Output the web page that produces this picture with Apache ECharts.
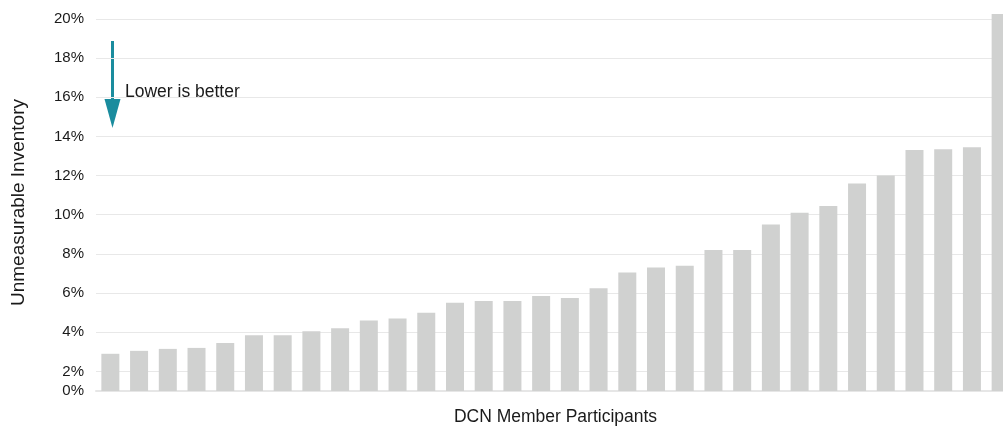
<!DOCTYPE html>
<html>
<head>
<meta charset="utf-8">
<script src="https://cdn.jsdelivr.net/npm/echarts@6/dist/echarts.min.js"></script>
<style>
  html, body { margin: 0; padding: 0; background: #fff; }
  #main { width: 1003px; height: 430px; }
</style>
</head>
<body>
<div id="main"></div>
<script>
// participants, sorted low to high (values in %)
var participants = [];
for (var p = 1; p <= 32; p++) participants.push('P' + p);
var unmeasurable = [2.9, 3.05, 3.15, 3.2, 3.45, 3.85, 3.85, 4.05, 4.2, 4.6, 4.7, 5.0,
  5.5, 5.6, 5.6, 5.85, 5.75, 6.25, 7.05, 7.3, 7.4, 8.2, 8.2, 9.5,
  10.1, 10.45, 11.6, 12.0, 13.3, 13.35, 13.45, 20.3];
// axis starts just under 2%, bottom tick is labelled 0%
var yTicks = [1, 2, 4, 6, 8, 10, 12, 14, 16, 18, 20];
var yTickLabels = ['0%', '2%', '4%', '6%', '8%', '10%', '12%', '14%', '16%', '18%', '20%'];

var chart = echarts.init(document.getElementById('main'), null, { renderer: 'canvas' });

// one colour per tick (1..20 plus the max edge), only labelled ticks get a line
var gridColors = [];
for (var v = 1; v <= 21; v++) {
  gridColors.push(v <= 20 && yTicks.indexOf(v) >= 0 ? '#e8e8e8' : 'rgba(0,0,0,0)');
}

var teal = '#1a8c9e';
var font = '"Liberation Sans", Arial, sans-serif';

var option = {
  animation: false,
  backgroundColor: '#fff',
  grid: {
    left: 96,
    top: 14,
    width: 919,
    height: 377,
    outerBoundsMode: 'none',
    containLabel: false
  },
  xAxis: {
    type: 'category',
    data: participants,
    name: 'DCN Member Participants',
    nameLocation: 'middle',
    nameGap: 17,
    nameTextStyle: { fontFamily: font, fontSize: 17.5, color: '#1a1a1a' },
    axisLine: { show: true, lineStyle: { color: '#e6e6e6', width: 2 } },
    axisTick: { show: false },
    axisLabel: { show: false }
  },
  yAxis: {
    type: 'value',
    min: 1,
    max: 20.25,
    interval: 1,
    name: 'Unmeasurable Inventory',
    nameLocation: 'middle',
    nameGap: 68,
    nameTextStyle: { fontFamily: font, fontSize: 19, color: '#1a1a1a' },
    axisLine: { show: false },
    axisTick: { show: false },
    axisLabel: {
      margin: 12,
      fontFamily: font,
      fontSize: 15,
      color: '#1a1a1a',
      showMaxLabel: false,
      formatter: function (val) {
        var i = yTicks.indexOf(val);
        return i >= 0 ? yTickLabels[i] : '';
      }
    },
    splitLine: { show: true, lineStyle: { color: gridColors, width: 1 } }
  },
  series: [{
    type: 'bar',
    data: unmeasurable,
    barWidth: 18,
    itemStyle: { color: '#d0d1d0' }
  }],
  graphic: [
    {
      type: 'line',
      shape: { x1: 112.5, y1: 41, x2: 112.5, y2: 104 },
      style: { stroke: teal, lineWidth: 3 }
    },
    {
      type: 'polygon',
      shape: { points: [[104.5, 99], [120.5, 99], [112.5, 128]] },
      style: { fill: teal }
    },
    {
      type: 'text',
      left: 125,
      top: 83,
      style: {
        text: 'Lower is better',
        font: '17.5px ' + font,
        fill: '#1a1a1a'
      }
    }
  ]
};

chart.setOption(option);
</script>
</body>
</html>
